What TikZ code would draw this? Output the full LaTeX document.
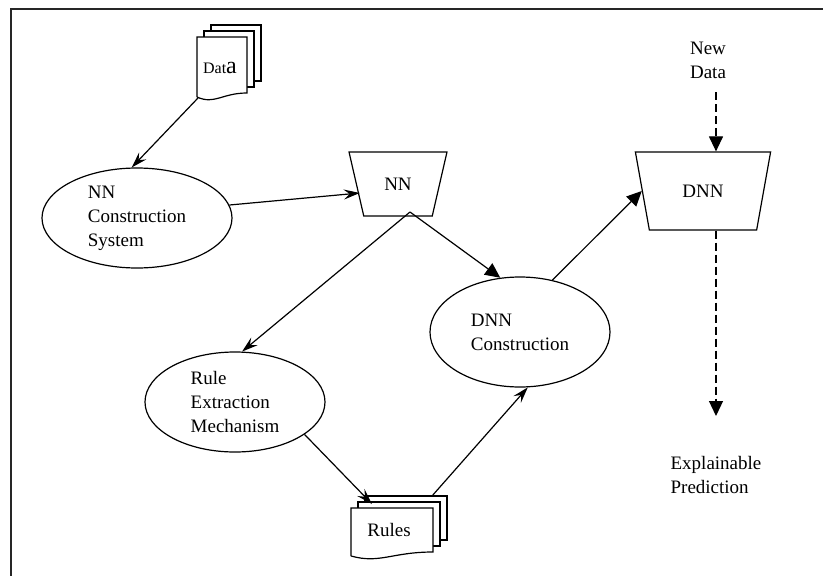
\documentclass[tikz,border=0pt]{standalone}
\usepackage{fontspec}
\setmainfont{Liberation Serif}
\usetikzlibrary{shapes.geometric,arrows.meta}

% stack of three pages, front one with a wavy bottom
% #1,#2 centre of the front page, #3,#4 half width and half height
\newcommand{\docstack}[4]{%
  \draw[fill=white] ({#1-#3+14},{#2-#4-12}) rectangle ({#1+#3+14},{#2+#4-12});
  \draw[fill=white] ({#1-#3+7},{#2-#4-6}) rectangle ({#1+#3+7},{#2+#4-6});
  \draw[fill=white] ({#1-#3},{#2+#4+4}) -- ({#1-#3},{#2-#4}) -- ({#1+#3},{#2-#4})
    -- ({#1+#3},{#2+#4}) .. controls ({#1},{#2+#4}) and ({#1-0.3*#3},{#2+#4+12}) .. ({#1-#3},{#2+#4+4});
}

\tikzset{
  every node/.style={font=\fontsize{19}{24}\selectfont},
  proc/.style={draw, ellipse, inner sep=0pt, align=left},
  box/.style={draw, trapezium, shape border rotate=180, trapezium stretches=true},
  thinarrow/.style={-{Stealth[length=16pt,width=10pt,inset=6pt]}},
  bigarrow/.style={-{Triangle[length=15pt,width=14pt]}},
  flow/.style={dashed, dash pattern=on 8pt off 4pt},
}

\begin{document}
\begin{tikzpicture}[x=1pt, y=-1pt, line width=1.2pt]
  \useasboundingbox (0,0) rectangle (823,576);

  % Frame
  \draw[line width=2pt, black!85] (11,576) -- (11,9) -- (823,9);

  % Documents
  \docstack{222}{65}{25}{28}
  \node[inner sep=0pt] (data) at (220,68) {\fontsize{16}{16}\selectfont Dat\fontsize{24}{24}\selectfont a};
  \docstack{392}{530}{41}{22}
  \node[inner sep=0pt] (rules) at (389,530) {Rules};

  % Nodes
  \node[proc, minimum width=190, minimum height=100] (ncs) at (137,218) {NN\\Construction\\System};
  \node[proc, minimum width=180, minimum height=100] (rule) at (235,402) {Rule\\Extraction\\Mechanism};
  \node[proc, minimum width=180, minimum height=110] (dnnc) at (520,332) {DNN\\Construction};
  \node[box, trapezium angle=69, minimum width=98, minimum height=64] (nn) at (398,184) {NN};
  \node[box, trapezium angle=72, minimum width=136, minimum height=78] (dnn) at (703,191) {DNN};
  \node[align=center] (newdata) at (708,60) {New\\Data};
  \node[align=left] (expl) at (716,475) {Explainable\\Prediction};

  % Connection
  \coordinate (datafoot) at (198,98);
  \coordinate (split) at (410,212);
  \coordinate (rulestop) at (432,496);
  \coordinate (rulesin) at (372,504);
  \coordinate (newin) at (716,92);
  \coordinate (predin) at (716,416);
  \draw[thinarrow] (datafoot) -- (ncs.96);
  \draw[thinarrow] (ncs.8) -- ([xshift=4pt,yshift=-9pt]nn.west);
  \draw[thinarrow] (split) -- (rule.82);
  \draw[bigarrow] (split) -- (dnnc.110);
  \draw[thinarrow] (rule.-25) -- (rulesin);
  \draw[thinarrow] (rulestop) -- (dnnc.-82);
  \draw[bigarrow] (dnnc.58) -- (dnn.west);
  \draw[bigarrow, flow] (newin) -- (newin |- dnn.north);
  \draw[bigarrow, flow] (predin |- dnn.south) -- (predin);
\end{tikzpicture}
\end{document}
